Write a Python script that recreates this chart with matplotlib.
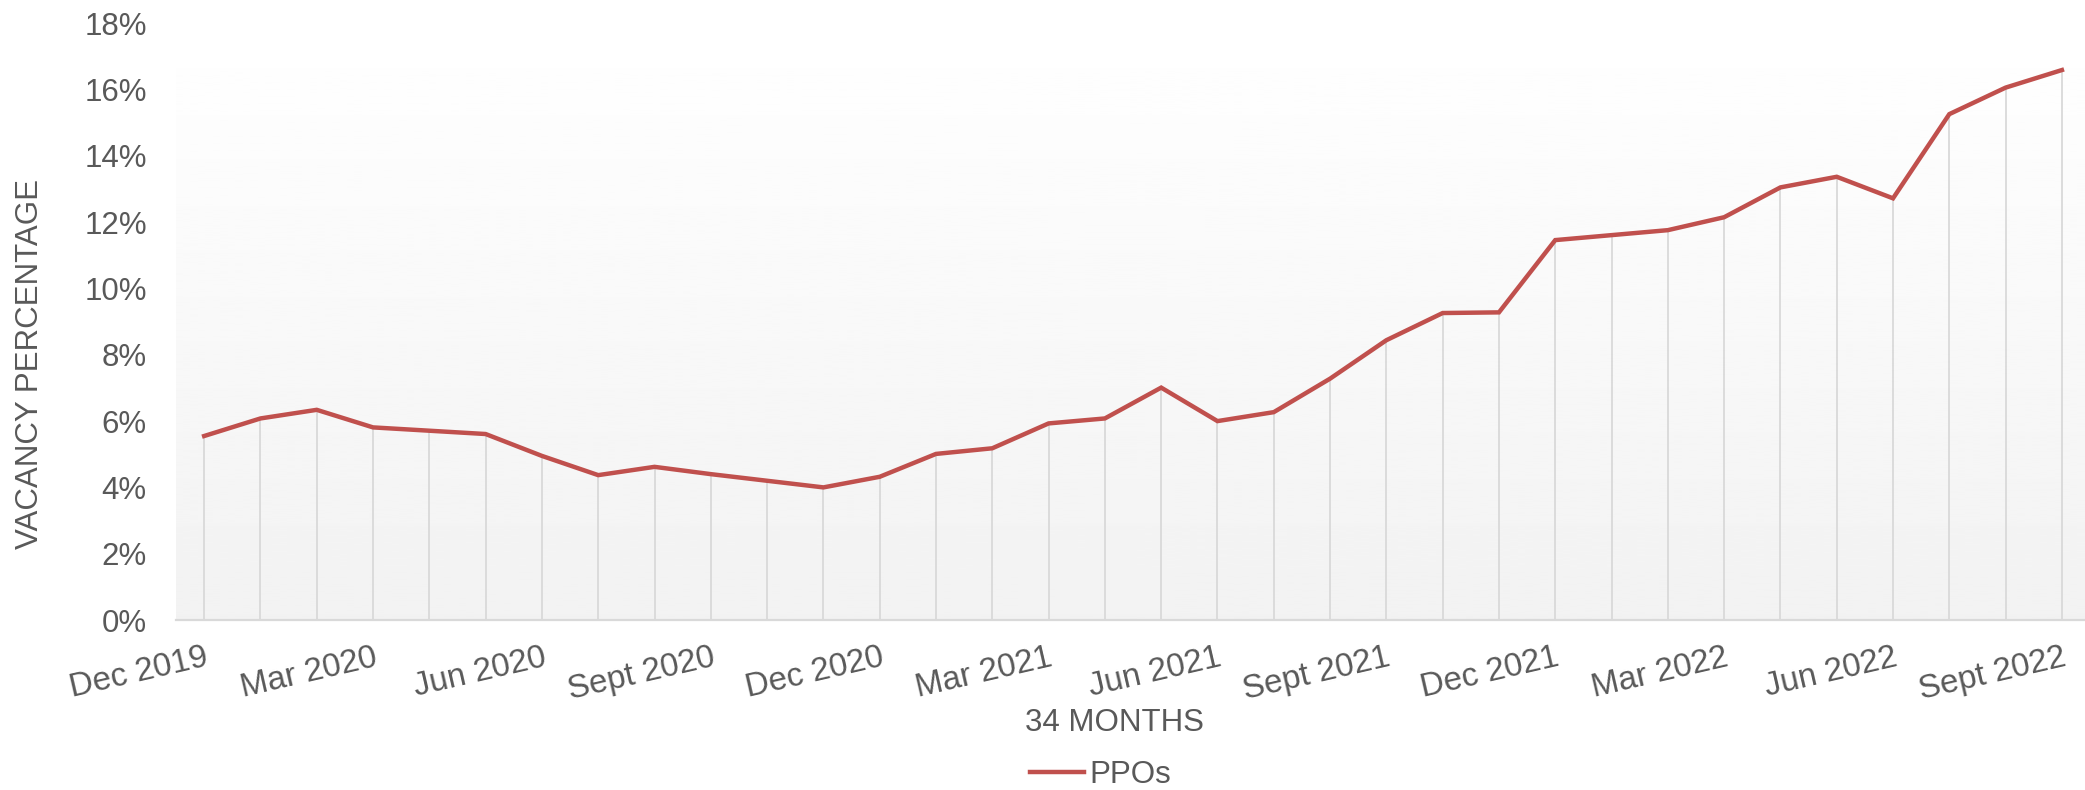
import matplotlib
matplotlib.use("Agg")
import matplotlib.pyplot as plt
import numpy as np

plt.rcParams['font.family'] = ['Liberation Sans', 'DejaVu Sans']

# monthly vacancy %, Dec 2019 .. Sept 2022 (34 months)
vacancy = [5.55, 6.08, 6.34, 5.81, 5.71, 5.61, 4.95, 4.37, 4.62, 4.40,
           4.20, 4.00, 4.32, 5.01, 5.18, 5.93, 6.08, 7.01, 6.00, 6.27,
           7.28, 8.44, 9.26, 9.28, 11.46, 11.61, 11.76, 12.15, 13.05, 13.37,
           12.72, 15.26, 16.06, 16.59]
tick_pos = [0, 3, 6, 9, 12, 15, 18, 21, 24, 27, 30, 33]
tick_labels = ['Dec 2019', 'Mar 2020', 'Jun 2020', 'Sept 2020', 'Dec 2020',
               'Mar 2021', 'Jun 2021', 'Sept 2021', 'Dec 2021', 'Mar 2022',
               'Jun 2022', 'Sept 2022']
yticks = [0, 2, 4, 6, 8, 10, 12, 14, 16, 18]

txt = '#595959'
red = '#c0504d'
W, H = 2085, 790

fig = plt.figure(figsize=(W / 100, H / 100), dpi=100)
ax = fig.add_axes([176 / W, 1 - 620 / H, (W - 176) / W, (620 - 23.3) / H])

x = np.arange(len(vacancy))

# gradient background, white at top to light gray at bottom
grad = np.linspace(1.0, 0.949, 256).reshape(-1, 1)
ax.imshow(grad, cmap='gray', vmin=0, vmax=1, aspect='auto',
          extent=[0, 1, 0, 1], transform=ax.transAxes, zorder=0)

ax.vlines(x, 0, vacancy, color='#d9d9d9', lw=1.3, zorder=1)
ax.plot(x, vacancy, color=red, lw=3.2, solid_joinstyle='miter', zorder=3,
        label='PPOs')

ax.set_xlim(-0.5, 33.41)
ax.set_ylim(0, 18)
ax.set_yticks(yticks)
ax.set_yticklabels([f'{v}%' for v in yticks])
ax.set_xticks(tick_pos)
ax.set_xticklabels(tick_labels, rotation=13, ha='right', va='top',
                   rotation_mode='anchor')
ax.tick_params(axis='x', length=0, pad=16, labelsize=23.8, labelcolor=txt)
ax.tick_params(axis='y', length=0, pad=21, labelsize=22.5, labelcolor=txt)

for s in ['top', 'right', 'left']:
    ax.spines[s].set_visible(False)
ax.spines['bottom'].set_color('#d9d9d9')
ax.spines['bottom'].set_linewidth(1.6)
ax.spines['bottom'].set_zorder(2)

fig.text(30 / W, 1 - 364 / H, 'VACANCY PERCENTAGE', rotation=90,
         ha='center', va='center', fontsize=22.5, color=txt)
fig.text(1114 / W, 1 - 723 / H, '34 MONTHS', ha='center', va='center',
         fontsize=22.5, color=txt)

fig.legend(loc='center left', bbox_to_anchor=(1030 / W, 1 - 775 / H),
           frameon=False, borderpad=0, borderaxespad=0, handlelength=1.73,
           handletextpad=0.16, fontsize=22.5, labelcolor=txt)

fig.savefig('out.png', dpi=100)
